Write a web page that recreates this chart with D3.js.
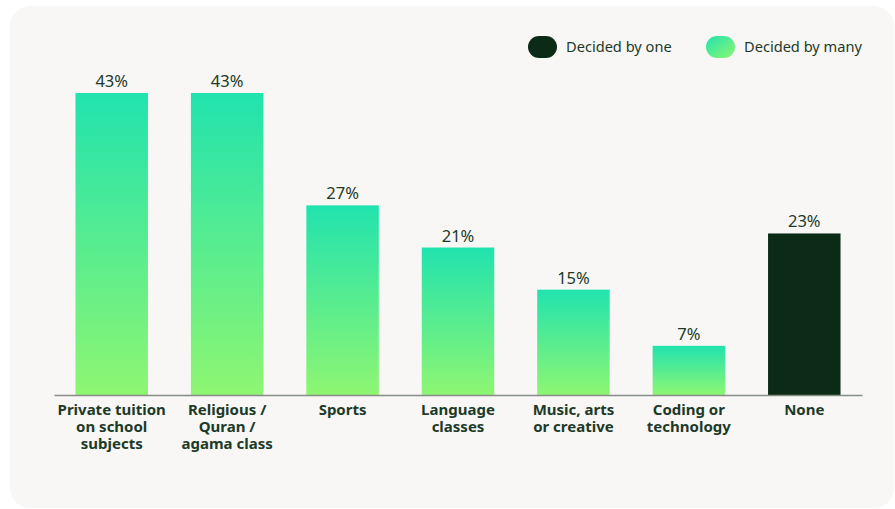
<!DOCTYPE html>
<html>
<head>
<meta charset="utf-8">
<script src="https://cdn.jsdelivr.net/npm/d3@7"></script>
<style>
  html, body { margin: 0; padding: 0; background: #ffffff; }
  svg { display: block; font-family: "Noto Sans", "Open Sans", sans-serif; }
</style>
</head>
<body>
<svg id="chart" width="895" height="509"></svg>
<script>
// Activity categories (label lines) and share of respondents
const categories = [
  ["Private tuition", "on school", "subjects"],
  ["Religious /", "Quran /", "agama class"],
  ["Sports"],
  ["Language", "classes"],
  ["Music, arts", "or creative"],
  ["Coding or", "technology"],
  ["None"]
];
const values = [43, 43, 27, 21, 15, 7, 23];
const groups = ["many", "many", "many", "many", "many", "many", "one"];
const legendItems = [
  { key: "one", label: "Decided by one" },
  { key: "many", label: "Decided by many" }
];

const svg = d3.select("#chart");
const textColor = "#1d3a29";
const darkColor = "#0c2b16";

const defs = svg.append("defs");
const barGrad = defs.append("linearGradient")
  .attr("id", "barGrad").attr("x1", 0).attr("y1", 0).attr("x2", 0).attr("y2", 1);
barGrad.append("stop").attr("offset", "0%").attr("stop-color", "#21e3ae");
barGrad.append("stop").attr("offset", "100%").attr("stop-color", "#8ef672");
const legGrad = defs.append("linearGradient")
  .attr("id", "legGrad").attr("x1", 0).attr("y1", 0).attr("x2", 1).attr("y2", 1);
legGrad.append("stop").attr("offset", "0%").attr("stop-color", "#21e3ae");
legGrad.append("stop").attr("offset", "100%").attr("stop-color", "#8ef672");

// card background
svg.append("rect")
  .attr("x", 10).attr("y", 6).attr("width", 884).attr("height", 502)
  .attr("rx", 20).attr("fill", "#f8f7f5");

const fillFor = g => g === "one" ? darkColor : "url(#barGrad)";

// scales
const x = d3.scaleBand()
  .domain(d3.range(categories.length))
  .range([54, 862])
  .paddingInner(0.372)
  .paddingOuter(0.186);

const y = d3.scaleLinear().domain([0, 43]).range([395, 93]);

// bars
svg.append("g").selectAll("rect")
  .data(values)
  .join("rect")
  .attr("x", (d, i) => x(i))
  .attr("width", x.bandwidth())
  .attr("y", d => y(d))
  .attr("height", d => y(0) - y(d))
  .attr("fill", (d, i) => fillFor(groups[i]));

// value labels
svg.append("g").selectAll("text")
  .data(values)
  .join("text")
  .attr("x", (d, i) => x(i) + x.bandwidth() / 2)
  .attr("y", d => y(d) - 6)
  .attr("text-anchor", "middle")
  .attr("font-size", 16.5)
  .attr("fill", textColor)
  .text(d => d + "%");

// baseline axis
const axis = svg.append("g")
  .attr("transform", `translate(0,${y(0)})`)
  .call(d3.axisBottom(x).tickSize(0).tickFormat(""));
axis.select(".domain").attr("stroke", "#868c87").attr("stroke-width", 1.5);

// category labels, one text element per line
const lines = categories.flatMap((c, i) => c.map((t, j) => ({ i, j, t })));
svg.append("g").selectAll("text")
  .data(lines)
  .join("text")
  .attr("x", d => x(d.i) + x.bandwidth() / 2)
  .attr("y", d => 415 + d.j * 17)
  .attr("text-anchor", "middle")
  .attr("font-size", 15)
  .attr("font-weight", "bold")
  .attr("fill", textColor)
  .text(d => d.t);

// legend
const legX = [528, 706];
const leg = svg.append("g").selectAll("g")
  .data(legendItems)
  .join("g")
  .attr("transform", (d, i) => `translate(${legX[i]},36)`);
leg.append("rect")
  .attr("width", 29).attr("height", 22).attr("rx", 11)
  .attr("fill", d => d.key === "one" ? darkColor : "url(#legGrad)");
leg.append("text")
  .attr("x", 38).attr("y", 16)
  .attr("font-size", 14.6)
  .attr("fill", textColor)
  .text(d => d.label);
</script>
</body>
</html>
